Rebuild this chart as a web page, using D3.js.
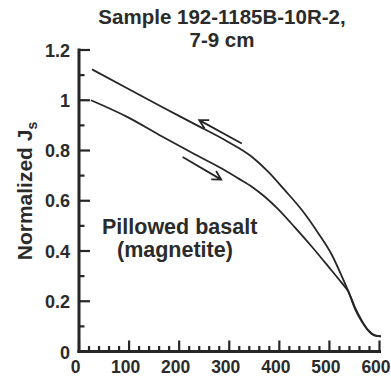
<!DOCTYPE html>
<html>
<head>
<meta charset="utf-8">
<script src="https://cdn.jsdelivr.net/npm/d3@7"></script>
<style>
  html, body { margin: 0; padding: 0; background: #fff; }
  svg { display: block; }
  text { font-family: "Liberation Sans", Arial, Helvetica, sans-serif; font-weight: bold; fill: #2b2b2b; }
</style>
</head>
<body>
<svg id="chart" width="391" height="383"></svg>
<script>
// ---- data ----
const titleLines = ["Sample 192-1185B-10R-2,", "7-9 cm"];
const yLabel = "Normalized J";
const ySub = "s";
const annotation = ["Pillowed basalt", "(magnetite)"];
const xTickValues = [0, 100, 200, 300, 400, 500, 600];
const yTickValues = [0, 0.2, 0.4, 0.6, 0.8, 1, 1.2];
const yTickLabels = ["0", "0.2", "0.4", "0.6", "0.8", "1", "1.2"];
const xMinorValues = [20, 40, 60, 80, 120, 140, 160, 180, 220, 240, 260, 280, 320, 340, 360, 380, 420, 440, 460, 480, 520, 540, 560, 580];
const yMinorValues = [0.1, 0.3, 0.5, 0.7, 0.9, 1.1];

// heating curve (lower, arrow pointing right)
const heatingT = [24, 98, 165, 231, 285, 318, 345, 371, 398, 431, 465, 498, 525, 538, 551, 565, 578, 591, 603];
const heatingJ = [1.0, 0.932, 0.857, 0.785, 0.728, 0.689, 0.656, 0.616, 0.566, 0.494, 0.417, 0.338, 0.272, 0.238, 0.176, 0.122, 0.084, 0.064, 0.06];
// cooling curve (upper, arrow pointing left)
const coolingT = [26, 98, 165, 231, 298, 345, 378, 411, 445, 478, 505, 525, 538, 551, 565, 578, 591, 603];
const coolingJ = [1.123, 1.046, 0.974, 0.905, 0.834, 0.775, 0.715, 0.642, 0.563, 0.470, 0.384, 0.298, 0.238, 0.170, 0.118, 0.082, 0.063, 0.06];

// arrows [tailT, tailJ, headT, headJ]
const coolArrow = [325, 0.828, 240, 0.921];
const heatArrow = [207, 0.774, 284, 0.684];

// ---- layout ----
const svg = d3.select("#chart");
const ink = "#262626";
const x = d3.scaleLinear().domain([0, 600]).range([79, 379.5]);
const y = d3.scaleLinear().domain([0, 1.2]).range([351.5, 50]);

// title
svg.append("text")
  .attr("text-anchor", "middle")
  .style("font-size", "20.5px")
  .selectAll("tspan").data(titleLines).join("tspan")
  .attr("x", 222).attr("y", (d, i) => 24 + i * 22.5)
  .text(d => d);

// axes
const axG = svg.append("g").attr("fill", ink);
axG.append("rect").attr("x", x(0) - 1.5).attr("y", y(1.2) - 1.5).attr("width", 3).attr("height", y(0) - y(1.2) + 3);
axG.append("rect").attr("x", x(0) - 1.5).attr("y", y(0) - 1.5).attr("width", x(600) - x(0) + 3).attr("height", 3);

// ticks (inward)
axG.selectAll("rect.xt").data(xTickValues.concat(xMinorValues)).join("rect").attr("class", "xt")
  .attr("x", d => x(d) - 1.1).attr("width", 2.2)
  .attr("y", d => y(0) - (d % 100 === 0 ? 11 : 5.5)).attr("height", d => (d % 100 === 0 ? 11 : 5.5));
axG.selectAll("rect.yt").data(yTickValues.concat(yMinorValues)).join("rect").attr("class", "yt")
  .attr("x", x(0)).attr("height", 2.2)
  .attr("y", d => y(d) - 1.1).attr("width", d => (Math.round(d * 10) % 2 === 0 ? 11 : 5.5));

// tick labels
svg.append("g").selectAll("text").data(xTickValues).join("text")
  .attr("x", d => x(d) - 3.5).attr("y", 373)
  .attr("text-anchor", "middle")
  .style("font-size", "17.5px")
  .text(d => d);
svg.append("g").selectAll("text").data(yTickValues).join("text")
  .attr("x", 70).attr("y", (d, i) => y(d) + (i === 0 ? 7.5 : 6.5))
  .attr("text-anchor", "end")
  .style("font-size", "18px")
  .text((d, i) => yTickLabels[i]);

// y label
const yl = svg.append("text")
  .attr("transform", "translate(32,191) rotate(-90)")
  .attr("text-anchor", "middle")
  .style("font-size", "21px");
yl.append("tspan").text(yLabel);
yl.append("tspan").attr("dy", 5).style("font-size", "14px").text(ySub);

// curves
const line = d3.line().x(d => x(d[0])).y(d => y(d[1])).curve(d3.curveMonotoneX);
const heating = heatingT.map((t, i) => [t, heatingJ[i]]);
const cooling = coolingT.map((t, i) => [t, coolingJ[i]]);
[heating, cooling].forEach(data => {
  svg.append("path").datum(data)
    .attr("d", line)
    .attr("fill", "none")
    .attr("stroke", ink)
    .attr("stroke-width", 1.8);
});

// arrows
function arrow(a) {
  const x1 = x(a[0]), y1 = y(a[1]), x2 = x(a[2]), y2 = y(a[3]);
  const ang = Math.atan2(y2 - y1, x2 - x1);
  const L = 10, spread = 0.5;
  svg.append("path")
    .attr("d", `M${x1},${y1}L${x2},${y2}M${x2 - L * Math.cos(ang - spread)},${y2 - L * Math.sin(ang - spread)}L${x2},${y2}L${x2 - L * Math.cos(ang + spread)},${y2 - L * Math.sin(ang + spread)}`)
    .attr("fill", "none").attr("stroke", ink).attr("stroke-width", 1.8);
}
arrow(coolArrow);
arrow(heatArrow);

// annotation
svg.append("text")
  .style("font-size", "21.5px")
  .selectAll("tspan").data(annotation).join("tspan")
  .attr("x", (d, i) => i === 0 ? 102 : 117)
  .attr("y", (d, i) => 234 + i * 23)
  .text(d => d);
</script>
</body>
</html>
